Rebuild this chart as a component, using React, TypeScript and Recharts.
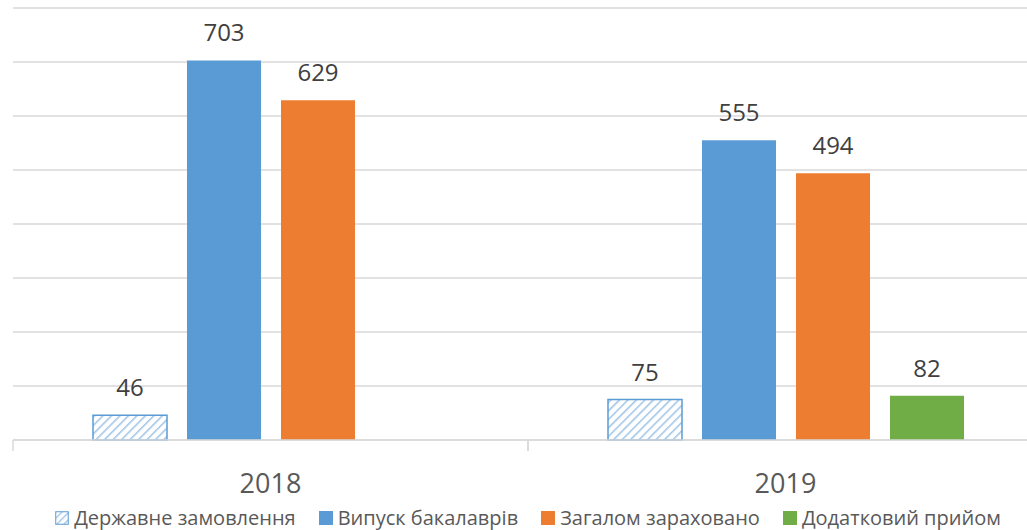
import React from 'react';
import { BarChart, Bar, XAxis, YAxis, CartesianGrid, Legend, LabelList } from 'recharts';

const years = ['2018', '2019'];
const stateOrder = [46, 75];
const bachelors = [703, 555];
const enrolled = [629, 494];
const extraIntake: (number | null)[] = [null, 82];
const yTicks = [0, 100, 200, 300, 400, 500, 600, 700, 800];

const seriesKeys = ['stateOrder', 'bachelors', 'enrolled', 'extraIntake'];
const seriesNames = ['Державне замовлення', 'Випуск бакалаврів', 'Загалом зараховано', 'Додатковий прийом'];
const seriesFills = ['url(#hatch)', '#5b9bd5', '#ed7d31', '#70ad47'];

const data = years.map((year, i) => ({
  year,
  stateOrder: stateOrder[i],
  bachelors: bachelors[i],
  enrolled: enrolled[i],
  extraIntake: extraIntake[i],
}));

const CHART_W = 1051;
const MARGIN_LEFT = 13;
const MARGIN_RIGHT = 8;
const halfBand = (CHART_W - MARGIN_LEFT - MARGIN_RIGHT) / years.length / 2;

const YearTick = (props: any) => {
  const { x, y, payload } = props;
  return (
    <g>
      <line x1={x - halfBand} x2={x - halfBand} y1={y - 8} y2={y + 3} stroke="#d9d9d9" strokeWidth={1.5} />
      <line x1={x + halfBand} x2={x + halfBand} y1={y - 8} y2={y + 3} stroke="#d9d9d9" strokeWidth={1.5} />
      <text x={x} y={y + 45} textAnchor="middle" fill="#595959" fontSize={27}>
        {payload.value}
      </text>
    </g>
  );
};

const LegendContent = () => (
  <div style={{ display: 'flex', justifyContent: 'center', alignItems: 'center', fontSize: 20, lineHeight: '24px', height: 24, color: '#595959', marginTop: 2 }}>
    {seriesNames.map((name, i) => (
      <div key={name} style={{ display: 'flex', alignItems: 'center', marginRight: i < seriesNames.length - 1 ? 23 : 0 }}>
        <svg width={14} height={14} style={{ marginRight: 5 }}>
          {i === 0 ? (
            <rect x={0.75} y={0.75} width={12.5} height={12.5} fill="url(#hatchLegend)" stroke="#5b9bd5" strokeWidth={1} />
          ) : (
            <rect x={0} y={0} width={14} height={14} fill={seriesFills[i]} />
          )}
          <defs>
            <pattern id="hatchLegend" width="5" height="5" patternUnits="userSpaceOnUse" patternTransform="rotate(45)">
              <rect width="5" height="5" fill="#ffffff" />
              <line x1="0" y1="0" x2="0" y2="5" stroke="#9dc3e6" strokeWidth="2.5" />
            </pattern>
          </defs>
        </svg>
        <span>{name}</span>
      </div>
    ))}
  </div>
);

const labelFmt = (v: any) => (v == null ? '' : v);

export default function App() {
  return (
    <div style={{ position: 'absolute', left: 0, top: 0, width: 1027, height: 530, overflow: 'hidden', background: '#fff', fontFamily: '"Open Sans", "Noto Sans", sans-serif' }}>
      <BarChart
        width={CHART_W}
        height={530}
        data={data}
        margin={{ top: 8, right: MARGIN_RIGHT, left: MARGIN_LEFT, bottom: 0 }}
        barSize={74}
        barGap={20}
      >
        <defs>
          <pattern id="hatch" width="6" height="6" patternUnits="userSpaceOnUse" patternTransform="rotate(45)">
            <rect width="6" height="6" fill="#ffffff" />
            <line x1="0" y1="0" x2="0" y2="6" stroke="#9dc3e6" strokeWidth="3" />
          </pattern>
        </defs>
        <CartesianGrid vertical={false} stroke="#d9d9d9" strokeWidth={1.5} />
        <XAxis
          dataKey="year"
          height={64}
          tickLine={false}
          axisLine={{ stroke: '#d9d9d9', strokeWidth: 1.5 }}
          tick={<YearTick />}
          interval={0}
        />
        <YAxis hide domain={[0, 800]} ticks={yTicks} />
        <Legend verticalAlign="bottom" height={26} content={<LegendContent />} />
        {seriesKeys.map((key, i) => (
          <Bar
            key={key}
            dataKey={key}
            name={seriesNames[i]}
            fill={seriesFills[i]}
            stroke={i === 0 ? '#5b9bd5' : undefined}
            strokeWidth={i === 0 ? 1.5 : 0}
            isAnimationActive={false}
          >
            <LabelList dataKey={key} position="top" offset={19} fill="#404040" fontSize={24} formatter={labelFmt} />
          </Bar>
        ))}
      </BarChart>
    </div>
  );
}
